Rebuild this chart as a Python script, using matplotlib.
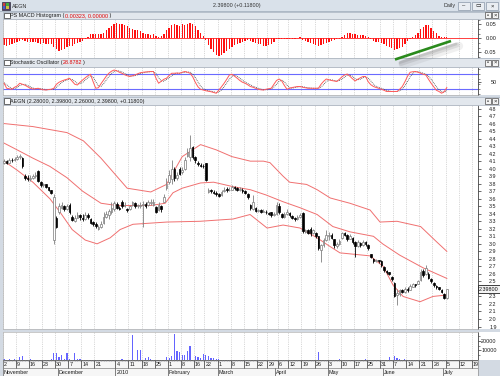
import matplotlib
matplotlib.use("Agg")
import matplotlib.pyplot as plt
from matplotlib.patches import Rectangle
from matplotlib.lines import Line2D
import numpy as np

plt.rcParams['font.family'] = ['Liberation Sans', 'DejaVu Sans']

W, H = 500, 376
FS = 3.9

# ---------------- data ----------------
symbol = "AEGN"
last_values = "2.39800 (+0.11800)"
ohlc_header = "AEGN (2.28000, 2.39800, 2.26000, 2.39800, +0.11800)"
macd_values = "0.00323, 0.00000"
stoch_value = "28.8782"

opens = [4.08,4.10,4.08,4.12,4.11, 4.13,4.15,4.14,3.90,3.88,
         3.86,3.88,3.90,3.97,3.82, 3.78,3.79,3.75,3.71,3.05,
         3.35,3.43,3.48,3.50,3.46, 3.52,3.36,3.31,3.35,3.38,
         3.35,3.33,3.38,3.33,3.29, 3.27,3.20,3.22,3.28,3.36,
         3.38,3.42,3.46,3.53,3.48, 3.56,3.50,3.47,3.46,3.51,
         3.54,3.50,3.50,3.52,3.53, 3.51,3.54,3.52,3.49,3.45,
         3.50,3.56,3.74,3.82,3.86, 4.00,3.88,4.00,3.95,3.99,
         4.17,4.15,4.29,4.15,4.08, 4.05,4.04,4.07,3.69,3.71,
         3.69,3.68,3.66,3.65,3.70, 3.73,3.72,3.72,3.75,3.74,
         3.72,3.72,3.70,3.66,3.52, 3.46,3.48,3.44,3.45,3.43,
         3.43,3.41,3.42,3.38,3.40, 3.50,3.40,3.36,3.40,3.41,
         3.37,3.34,3.33,3.36,3.41, 3.16,3.18,3.20,3.14,3.14,
         3.10,2.92,2.98,3.05,3.10, 3.12,3.06,2.97,3.00,3.08,
         3.14,3.12,3.07,3.08,3.03, 2.97,3.01,2.98,3.02,2.99,
         2.86,2.80,2.77,2.78,2.77, 2.69,2.64,2.62,2.56,2.48,
         2.32,2.33,2.38,2.36,2.40, 2.39,2.43,2.46,2.47,2.52,
         2.64,2.60,2.60,2.53,2.48, 2.44,2.42,2.39,2.33,2.28]
highs = [4.13,4.12,4.14,4.14,4.16, 4.18,4.20,4.15,3.93,3.92,
         3.91,3.93,3.95,3.98,3.83, 3.81,3.80,3.76,3.72,3.66,
         3.37,3.54,3.56,3.52,3.53, 3.54,3.38,3.38,3.42,3.40,
         3.40,3.43,3.41,3.34,3.30, 3.29,3.25,3.30,3.42,3.44,
         3.47,3.56,3.57,3.55,3.50, 3.58,3.55,3.48,3.52,3.57,
         3.56,3.53,3.55,3.57,3.55, 3.58,3.59,3.60,3.50,3.56,
         3.51,3.66,3.88,3.98,4.12, 4.02,3.96,4.02,4.02,4.16,
         4.27,4.45,4.30,4.17,4.10, 4.08,4.06,4.08,3.74,3.73,
         3.71,3.70,3.67,3.72,3.75, 3.76,3.75,3.78,3.77,3.76,
         3.76,3.74,3.72,3.67,3.53, 3.65,3.49,3.47,3.46,3.46,
         3.45,3.43,3.43,3.42,3.56, 3.54,3.41,3.42,3.46,3.42,
         3.38,3.36,3.38,3.41,3.42, 3.20,3.20,3.22,3.20,3.16,
         3.11,3.00,3.08,3.19,3.16, 3.14,3.07,3.03,3.06,3.16,
         3.16,3.13,3.13,3.09,3.04, 3.05,3.02,3.05,3.04,3.00,
         2.87,2.81,2.80,2.79,2.78, 2.70,2.65,2.63,2.57,2.49,
         2.40,2.40,2.40,2.43,2.42, 2.46,2.48,2.47,2.52,2.66,
         2.66,2.72,2.62,2.55,2.49, 2.45,2.43,2.40,2.34,2.398]
lows = [4.06,4.06,4.07,4.09,4.10, 4.12,4.13,4.01,3.85,3.84,
        3.84,3.86,3.88,3.82,3.76, 3.76,3.74,3.70,3.66,3.00,
        3.21,3.40,3.46,3.44,3.45, 3.40,3.30,3.29,3.34,3.32,
        3.30,3.32,3.33,3.26,3.24, 3.21,3.19,3.21,3.27,3.34,
        3.33,3.40,3.44,3.46,3.45, 3.48,3.49,3.42,3.45,3.50,
        3.48,3.48,3.48,3.23,3.48, 3.50,3.52,3.50,3.41,3.44,
        3.42,3.55,3.72,3.80,3.79, 3.84,3.85,3.91,3.93,3.98,
        4.15,4.10,4.13,4.08,4.03, 4.02,4.01,3.84,3.68,3.68,
        3.66,3.64,3.62,3.64,3.69, 3.69,3.70,3.71,3.72,3.70,
        3.70,3.68,3.66,3.60,3.45, 3.45,3.42,3.42,3.41,3.42,
        3.40,3.38,3.36,3.37,3.38, 3.40,3.34,3.35,3.39,3.36,
        3.33,3.31,3.32,3.35,3.15, 3.14,3.13,3.10,3.13,3.08,
        2.92,2.76,2.96,3.04,3.05, 3.06,2.95,2.95,2.99,3.07,
        3.10,3.04,3.06,3.00,2.83, 2.96,2.96,2.97,2.97,2.92,
        2.81,2.75,2.76,2.75,2.69, 2.63,2.60,2.58,2.50,2.29,
        2.18,2.31,2.34,2.35,2.36, 2.38,2.42,2.43,2.46,2.51,
        2.56,2.58,2.53,2.48,2.43, 2.40,2.38,2.34,2.27,2.26]
closes = [4.10,4.08,4.12,4.11,4.13, 4.15,4.17,4.03,3.88,3.86,
          3.88,3.90,3.92,3.84,3.78, 3.79,3.76,3.72,3.68,3.62,
          3.23,3.50,3.52,3.47,3.50, 3.42,3.32,3.35,3.38,3.36,
          3.33,3.38,3.36,3.28,3.27, 3.24,3.22,3.27,3.36,3.40,
          3.44,3.48,3.54,3.48,3.46, 3.50,3.52,3.45,3.50,3.55,
          3.50,3.51,3.52,3.53,3.50, 3.55,3.56,3.55,3.43,3.52,
          3.47,3.62,3.80,3.92,4.00, 3.88,3.92,3.93,3.98,4.12,
          4.22,4.28,4.15,4.12,4.06, 4.04,4.03,3.85,3.72,3.70,
          3.68,3.66,3.64,3.69,3.72, 3.71,3.72,3.76,3.74,3.72,
          3.73,3.70,3.68,3.62,3.48, 3.55,3.44,3.45,3.43,3.44,
          3.42,3.40,3.38,3.40,3.52, 3.42,3.36,3.40,3.43,3.38,
          3.35,3.33,3.36,3.39,3.17, 3.18,3.15,3.14,3.18,3.10,
          2.94,2.98,3.05,3.12,3.12, 3.08,2.98,3.00,3.04,3.14,
          3.12,3.06,3.10,3.02,2.97, 3.02,2.98,3.03,3.00,2.95,
          2.83,2.77,2.78,2.77,2.72, 2.65,2.62,2.60,2.53,2.30,
          2.35,2.38,2.36,2.40,2.38, 2.44,2.46,2.45,2.50,2.62,
          2.58,2.68,2.55,2.50,2.45, 2.42,2.40,2.36,2.28,2.398]

# Bollinger-style envelope read at sample bars
upper_pos = [0, 11, 24, 30.3, 37, 43.5, 47, 56, 62, 68, 75, 81, 87, 94, 99, 101.5, 106.5,
             109, 115.5, 119.5, 124.5, 132, 139.7, 143.5, 150, 159, 165, 169]
upper_val = [4.60, 4.56, 4.48, 4.37, 4.14, 3.88, 3.74, 3.69, 3.79, 4.16, 4.32, 4.25, 4.16,
             4.10, 4.10, 4.08, 3.90, 3.82, 3.79, 3.72, 3.61, 3.54, 3.45, 3.29, 3.30, 3.23,
             3.03, 2.90]
mid_pos = [0, 5, 11, 17.5, 24, 30, 37, 43, 56, 61.5, 64.5, 68, 75, 80, 87.5, 94, 100, 106.5,
           113, 119.5, 125.5, 132, 141, 144.5, 151, 160, 169]
mid_val = [4.34, 4.25, 4.14, 4.03, 3.88, 3.70, 3.54, 3.51, 3.51, 3.54, 3.68, 3.74, 3.81, 3.82,
           3.76, 3.72, 3.65, 3.56, 3.48, 3.39, 3.23, 3.16, 3.10, 3.00, 2.85, 2.68, 2.54]
lower_pos = [0, 5, 11, 17.5, 21.4, 26, 31, 35.5, 40.5, 44.3, 49.2, 62.2, 74.8, 87.4, 93.9,
             100.4, 106.5, 113, 119.5, 123.3, 128.2, 139.7, 144.7, 148.5, 152.3, 158.8,
             163.7, 169]
lower_val = [4.10, 3.98, 3.82, 3.60, 3.42, 3.19, 3.05, 3.00, 3.08, 3.19, 3.26, 3.29, 3.30,
             3.33, 3.39, 3.21, 3.25, 3.21, 3.08, 2.99, 2.88, 2.84, 2.70, 2.45, 2.30, 2.23,
             2.30, 2.32]

macd_hist = [-0.025,-0.026,-0.024,-0.022,-0.018,-0.014,-0.010,-0.006,-0.008,-0.012,
             -0.014,-0.015,-0.015,-0.017,-0.019,-0.018,-0.019,-0.020,-0.022,-0.030,
             -0.040,-0.045,-0.042,-0.038,-0.032,-0.028,-0.026,-0.022,-0.018,-0.014,
             -0.010,-0.004,0.004,0.014,0.016,0.015,0.014,0.016,0.020,0.028,
             0.036,0.045,0.052,0.054,0.050,0.052,0.048,0.045,0.038,0.034,
             0.030,0.028,0.025,0.020,0.016,0.014,0.012,0.016,0.010,0.006,
             0.008,0.016,0.030,0.038,0.048,0.052,0.046,0.043,0.050,0.048,
             0.052,0.055,0.050,0.044,0.030,0.020,0.010,-0.005,-0.025,-0.038,
             -0.050,-0.058,-0.062,-0.058,-0.052,-0.045,-0.040,-0.032,-0.025,-0.020,
             -0.016,-0.012,-0.010,-0.006,-0.008,-0.014,-0.018,-0.020,-0.022,-0.026,
             -0.028,-0.024,-0.020,-0.012,-0.004,-0.002,-0.003,-0.002,-0.001,-0.002,
             -0.003,-0.002,0.002,0.006,-0.006,-0.010,-0.014,-0.018,-0.020,-0.024,
             -0.026,-0.024,-0.020,-0.016,-0.012,-0.010,-0.006,-0.004,-0.002,0.006,
             0.012,0.018,0.020,0.016,0.014,0.012,0.012,0.013,0.010,0.006,
             -0.004,-0.008,-0.012,-0.014,-0.018,-0.022,-0.026,-0.030,-0.035,-0.042,
             -0.040,-0.036,-0.030,-0.020,-0.010,-0.004,0.004,0.012,0.020,0.032,
             0.040,0.048,0.046,0.036,0.026,0.018,0.010,0.006,0.004,0.003]

stoch_k = [44,24,22,20,28,33,44,40,36,30, 24,21,22,24,20,18,17,19,20,24,
           40,48,53,57,60,64,52,40,37,48, 57,66,74,80,50,24,26,42,57,72,
           84,92,97,94,88,84,78,74,71,74, 77,82,86,88,89,90,91,91,64,44,
           52,60,64,75,84,84,85,84,88,91, 88,84,70,48,30,20,17,14,12,10,
           7,4,17,30,44,60,77,80,72,64, 55,48,44,38,31,28,24,20,18,17,
           20,22,24,40,55,61,53,35,20,24, 27,29,31,31,28,26,24,24,24,24,
           24,40,52,61,58,55,53,51,60,70, 77,81,72,62,53,60,66,71,71,50,
           38,31,27,24,20,16,11,11,11,11, 11,20,31,50,72,88,90,91,88,84,
           80,77,60,44,30,16,11,4,10,27]
stoch_d = [46,38,30,22,23,27,35,39,40,35, 30,25,22,22,22,21,18,18,19,21,
           28,37,47,53,57,60,59,52,43,42, 47,57,66,73,68,51,33,31,42,57,
           71,83,91,94,93,89,83,79,74,73, 74,78,82,85,88,89,90,91,82,66,
           53,52,59,66,74,81,84,84,86,88, 89,88,81,67,49,33,22,17,14,12,
           10,7,9,17,30,45,60,72,76,72, 64,56,49,43,38,32,28,24,21,18,
           18,20,22,29,40,52,56,50,36,26, 24,27,29,30,30,28,26,25,24,24,
           24,29,39,51,57,58,55,53,55,60, 69,76,77,72,62,58,60,66,69,64,
           53,40,32,27,24,20,16,13,11,11, 11,14,21,34,51,70,83,90,90,88,
           84,80,72,60,45,30,19,10,8,14]

volume = [1000,500,1000,300,1000,500,3000,4000,500,300,
          1500,300,300,300,500,300,300,500,1000,7000,
          7000,3500,5000,1500,7500,1500,500,7000,1000,1000,
          300,300,300,200,300,200,300,200,300,200,
          500,300,300,500,300,1500,300,300,300,26000,
          500,10000,10000,500,2500,3500,1500,500,500,300,
          500,500,3500,2500,4000,26500,9000,8000,5500,5000,
          9000,14000,500,4000,3500,2500,6000,5000,4000,2500,
          2000,1500,1000,500,300,300,200,300,200,300,
          200,300,200,300,500,300,200,300,200,300,
          200,300,200,300,500,300,200,300,200,300,
          200,300,200,300,500,300,200,300,200,500,
          8500,500,300,200,300,200,300,300,1500,200,
          300,200,300,200,300,200,300,200,1500,200,
          300,200,300,200,300,200,300,3500,300,4000,
          2000,1000,300,1000,300,200,300,200,300,200,
          300,200,300,200,300,200,300,200,300,200]

week_tick_pos = [0, 5, 10, 15, 20, 25, 30, 35, 43, 48, 53, 58, 63, 68, 73, 77, 82, 87, 92, 97,
                 101, 105, 109, 114, 119, 124, 129, 134, 139, 144, 149, 154, 159, 164, 169,
                 174, 179]
week_tick_labels = ['2', '9', '16', '23', '30', '7', '14', '21', '4', '11', '18', '25', '1',
                    '8', '16', '22', '1', '8', '15', '22', '29', '6', '12', '19', '26', '3',
                    '10', '17', '25', '31', '7', '14', '21', '28', '5', '12', '19']
month_pos = [0, 21, 43, 63, 82, 104, 124, 145, 168]
month_labels = ['November', 'December', '2010', 'February', 'March', 'April', 'May', 'June',
                'July']

price_ticks = [round(1.9 + 0.1 * k, 1) for k in range(30)]
# the 2.4 label is hidden behind the last-price marker in the reference
price_labels = ['' if abs(v - 2.4) < 1e-9 else '%.1f' % v for v in price_ticks]

# ---------------- layout helpers ----------------
fig = plt.figure(figsize=(W / 100, H / 100), dpi=100)
fig.patch.set_facecolor('#d3dae3')
XMIN, XMAX = -0.4, 180.9
TXT = '#1c1c1c'


def frac_rect(x0, y0, x1, y1):
    return [x0 / W, 1 - y1 / H, (x1 - x0) / W, (y1 - y0) / H]


def fig_rect(x0, y0, x1, y1, zorder=-1, **kw):
    r = Rectangle((x0 / W, 1 - y1 / H), (x1 - x0) / W, (y1 - y0) / H,
                  transform=fig.transFigure, zorder=zorder, **kw)
    fig.add_artist(r)
    return r


def ftext(x, y, s, **kw):
    kw.setdefault('fontsize', FS)
    kw.setdefault('color', TXT)
    kw.setdefault('va', 'center')
    return fig.text(x / W, 1 - y / H, s, **kw)


renderer = fig.canvas.get_renderer()


def seq_text(x, y, parts):
    for s, col in parts:
        t = ftext(x, y, s, color=col, ha='left')
        x += t.get_window_extent(renderer=renderer).width


def header(y0, y1, parts):
    fig_rect(3, y0, 500, y1, facecolor='#e2e7ed', edgecolor='#aab4c0', linewidth=0.5, zorder=1)
    yc = (y0 + y1) / 2
    fig_rect(4, yc - 2.5, 9.5, yc + 2.5, facecolor='white', edgecolor='#303030', linewidth=0.5, zorder=2)
    seq_text(10.5, yc, parts)
    for bx, sym in ((485, '▫'), (492, '×')):
        fig_rect(bx, yc - 3, bx + 6, yc + 3, facecolor='#f4f4f4', edgecolor='#505050', linewidth=0.5, zorder=2)
        ftext(bx + 3, yc, sym, ha='center', fontsize=4.2, zorder=3)


def panel(y0, y1, ylim, yticks, ylabels, minor=None):
    fig_rect(3, y0, 500, y1, facecolor='white', edgecolor='none')
    ax = fig.add_axes(frac_rect(3, y0, 478, y1))
    ax.set_facecolor('white')
    ax.set_xlim(XMIN, XMAX)
    ax.set_ylim(*ylim)
    ax.set_xticks([])
    ax.yaxis.tick_right()
    ax.set_yticks(yticks)
    ax.set_yticklabels(ylabels)
    if minor is not None:
        ax.set_yticks(minor, minor=True)
    ax.tick_params(axis='y', which='major', length=2.2, width=0.5, pad=11.3, labelsize=FS,
                   labelcolor=TXT, color='#303030')
    ax.tick_params(axis='y', which='minor', length=1.3, width=0.4, color='#303030')
    plt.setp(ax.get_yticklabels(), ha='right')
    for s in ('left', 'top', 'bottom'):
        ax.spines[s].set_color('#b4b4b4')
        ax.spines[s].set_linewidth(0.5)
    ax.spines['right'].set_color('#404040')
    ax.spines['right'].set_linewidth(0.6)
    for t in week_tick_pos:
        ax.axvline(t - 0.5, color='#c6c6c6', lw=0.5, ls=(0, (1.6, 1.6)), zorder=0)
    return ax


idx = np.arange(len(closes))
o = np.array(opens); h = np.array(highs); l = np.array(lows); c = np.array(closes)

# ---------------- title bar ----------------
fig_rect(0, 0, 500, 11.5, facecolor='#d9e1ea', edgecolor='none', zorder=1)
fig_rect(0, 10.8, 500, 11.5, facecolor='#aeb9c6', edgecolor='none', zorder=1)
fig_rect(1.5, 2, 9.5, 9.5, facecolor='#5a3d6e', edgecolor='#303040', linewidth=0.5, zorder=2)
fig_rect(2.5, 3, 5.3, 5.8, facecolor='#d04040', edgecolor='none', zorder=3)
fig_rect(5.7, 3, 8.5, 5.8, facecolor='#40b040', edgecolor='none', zorder=3)
fig_rect(2.5, 6.2, 5.3, 8.8, facecolor='#4060d0', edgecolor='none', zorder=3)
fig_rect(5.7, 6.2, 8.5, 8.8, facecolor='#d0c040', edgecolor='none', zorder=3)
ftext(11.5, 6, symbol, ha='left', color='#303030')
ftext(213, 6, last_values, ha='left', color='#303030')
ftext(444, 6, 'Daily', ha='left', color='#303030')
for bx, sym in ((458, '–'), (472, '▭'), (486, '×')):
    fig_rect(bx, 2.2, bx + 12, 9.6, facecolor='#e9edf2', edgecolor='#8a97a8', linewidth=0.5, zorder=2)
    ftext(bx + 6, 6, sym, ha='center', fontsize=4.2, zorder=3)

# ---------------- MACD ----------------
header(11.5, 19.3, [('PS MACD Histogram (', TXT), (macd_values, '#e00000'), (' )', TXT)])
ax_m = panel(19.3, 57.5, (-0.0686, 0.0679), [-0.05, 0.0, 0.05], ['-0.05', '0.00', '0.05'],
             minor=[k * 0.05 / 3 for k in range(-4, 5)])
ax_m.bar(idx, macd_hist, width=0.5, color='#ff1010', linewidth=0, zorder=2)
ax_m.axhline(0, color='#ff2020', lw=0.6, zorder=3)

# ---------------- Stochastic ----------------
header(58.5, 66.5, [('Stochastic Oscillator (', TXT), (stoch_value, '#e00000'), (')', TXT)])
ax_s = panel(66.5, 95, (-3, 111), [50], ['50'], minor=[0, 20, 40, 60, 80, 100])
ax_s.axhline(80, color='#6a6aff', lw=0.8, zorder=1)
ax_s.axhline(20, color='#6a6aff', lw=0.8, zorder=1)
ax_s.plot(idx, stoch_d, color='#404040', lw=0.6, ls=(0, (1, 1.2)), zorder=2)
ax_s.plot(idx, stoch_k, color='#ff5a5a', lw=0.7, zorder=3)

# ---------------- main price ----------------
header(97, 105, [(ohlc_header, TXT)])
ax_p = panel(105, 329.3, (1.863, 4.847), price_ticks, price_labels)
ax_p.plot(upper_pos, upper_val, color='#f07070', lw=0.7, zorder=1)
ax_p.plot(mid_pos, mid_val, color='#f07070', lw=0.7, zorder=1)
ax_p.plot(lower_pos, lower_val, color='#f07070', lw=0.7, zorder=1)
up = c >= o
dn = ~up
ax_p.vlines(idx[up], l[up], h[up], color='#808080', lw=0.6, zorder=2)
ax_p.vlines(idx[dn], l[dn], h[dn], color='#000000', lw=0.6, zorder=2)
ax_p.bar(idx[up], (c - o)[up], bottom=o[up], width=0.62, facecolor='white',
         edgecolor='#7a7a7a', linewidth=0.5, zorder=3)
ax_p.bar(idx[dn], (o - c)[dn], bottom=c[dn], width=0.62, facecolor='black',
         edgecolor='black', linewidth=0.5, zorder=3)
ax_p.text(1 + 11 / 475, closes[-1], '2.39800', transform=ax_p.get_yaxis_transform(),
          ha='center', va='center', fontsize=FS, color='#101010', clip_on=False, zorder=10,
          bbox=dict(boxstyle='square,pad=0.25', facecolor='#f4f4f4', edgecolor='#202020',
                    linewidth=0.6))

# ---------------- volume ----------------
ax_v = panel(332, 360, (0, 29000), [10000, 20000], ['10000', '20000'],
             minor=[5000, 15000, 25000])
ax_v.bar(idx, volume, width=0.45, color='#6464ff', linewidth=0, zorder=2)

# ---------------- date strip ----------------
ax_d = fig.add_axes(frac_rect(3, 360, 478, 376))
ax_d.set_facecolor('#f6f6f6')
ax_d.set_xlim(XMIN, XMAX)
ax_d.set_ylim(0, 2)
ax_d.set_xticks([])
ax_d.set_yticks([])
for s in ax_d.spines.values():
    s.set_color('#909090')
    s.set_linewidth(0.5)
ax_d.axhline(2, color='#101010', lw=0.9)
ax_d.axhline(1, color='#808080', lw=0.5)
ax_d.vlines(idx, 1.82, 2, color='#9090a0', lw=0.4)
for t, lab in zip(week_tick_pos, week_tick_labels):
    ax_d.vlines(t - 0.5, 1, 2, color='#303030', lw=0.5)
    ax_d.text(t - 0.1, 1.45, lab, fontsize=FS, color=TXT, ha='left', va='center')
for t, lab in zip(month_pos, month_labels):
    ax_d.vlines(t - 0.5, 0, 1, color='#505050', lw=0.5)
    ax_d.text(t - 0.1, 0.45, lab, fontsize=FS, color=TXT, ha='left', va='center')

# ---------------- green trend annotation ----------------
for dx, dy, lw, a in ((8, 5, 6, 0.10), (6, 4, 3.5, 0.16), (5, 3, 2, 0.2)):
    fig.add_artist(Line2D([(395 + dx) / W, (451 + dx) / W], [1 - (59.5 + dy) / H, 1 - (41 + dy) / H],
                          transform=fig.transFigure, color='#707070', alpha=a, lw=lw,
                          solid_capstyle='round', zorder=19))
fig.add_artist(Line2D([395 / W, 451 / W], [1 - 59.5 / H, 1 - 41 / H], transform=fig.transFigure,
                      color='#2a8a1c', lw=1.9, solid_capstyle='butt', zorder=20))

fig.savefig('out.png', dpi=100, facecolor=fig.get_facecolor())
